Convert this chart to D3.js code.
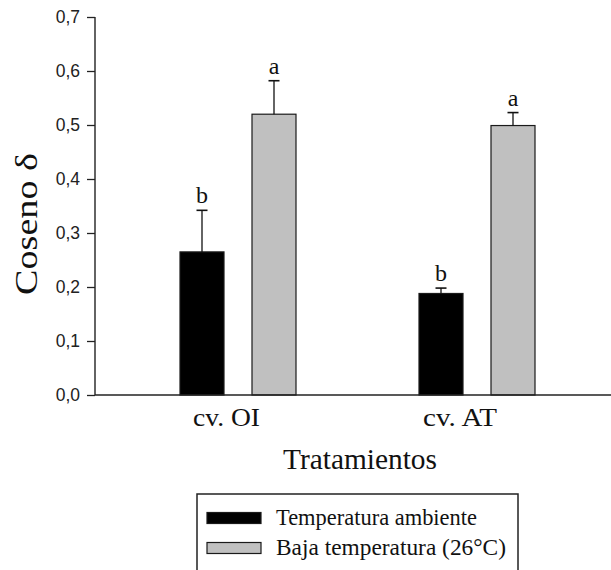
<!DOCTYPE html>
<html>
<head>
<meta charset="utf-8">
<script src="https://cdn.jsdelivr.net/npm/d3@7"></script>
<style>
  html, body { margin: 0; padding: 0; background: #fff; }
  svg { display: block; }
</style>
</head>
<body>
<svg id="chart" width="611" height="570"></svg>
<script>
// Cultivars on the x axis
const categories = ["cv. OI", "cv. AT"];
// Treatments (one bar per treatment inside each cultivar)
const seriesNames = ["Temperatura ambiente", "Baja temperatura (26°C)"];
// Mean cosine delta per cultivar, per treatment
const ambientValues = [0.265, 0.188];
const coldValues = [0.520, 0.499];
// Upper error (standard error) per cultivar, per treatment
const ambientErrors = [0.077, 0.010];
const coldErrors = [0.062, 0.024];
// Significance letters per cultivar, per treatment
const ambientLetters = ["b", "b"];
const coldLetters = ["a", "a"];
// Y axis ticks
const yTicks = [0, 0.1, 0.2, 0.3, 0.4, 0.5, 0.6, 0.7];

const seriesColors = ["#000000", "#c0c0c0"];
const serif = "'Liberation Serif', 'Times New Roman', serif";
const sans = "'Liberation Sans', Arial, sans-serif";

const rows = [];
categories.forEach((c, i) => {
  rows.push({ cat: c, s: seriesNames[0], v: ambientValues[i], e: ambientErrors[i], l: ambientLetters[i], k: 0 });
  rows.push({ cat: c, s: seriesNames[1], v: coldValues[i], e: coldErrors[i], l: coldLetters[i], k: 1 });
});

const svg = d3.select("#chart");
const axisX = 95, baseY = 395, topY = 17;

const y = d3.scaleLinear().domain([0, 0.7]).range([baseY, topY]);
const x0 = d3.scaleBand().domain(categories).range([118.5, 596.5]);
const x1 = d3.scaleBand().domain(seriesNames).range([-58, 58]).paddingInner(0.3889);
const color = d3.scaleOrdinal().domain(seriesNames).range(seriesColors);

// Bars
const g = svg.append("g");
g.selectAll("rect.bar").data(rows).join("rect")
  .attr("class", "bar")
  .attr("x", d => x0(d.cat) + x0.bandwidth() / 2 + x1(d.s))
  .attr("y", d => y(d.v))
  .attr("width", x1.bandwidth())
  .attr("height", d => y(0) - y(d.v))
  .attr("fill", d => color(d.s))
  .attr("stroke", "#1a1a1a")
  .attr("stroke-width", 1.2);

// Error bars (upper only)
const cx = d => x0(d.cat) + x0.bandwidth() / 2 + x1(d.s) + x1.bandwidth() / 2;
g.selectAll("line.err").data(rows).join("line")
  .attr("class", "err")
  .attr("x1", cx).attr("x2", cx)
  .attr("y1", d => y(d.v)).attr("y2", d => y(d.v + d.e))
  .attr("stroke", "#111").attr("stroke-width", 1.3);
g.selectAll("line.cap").data(rows).join("line")
  .attr("class", "cap")
  .attr("x1", d => cx(d) - 5.5).attr("x2", d => cx(d) + 5.5)
  .attr("y1", d => y(d.v + d.e)).attr("y2", d => y(d.v + d.e))
  .attr("stroke", "#111").attr("stroke-width", 1.6);

// Significance letters
g.selectAll("text.sig").data(rows).join("text")
  .attr("class", "sig")
  .attr("x", cx)
  .attr("y", d => y(d.v + d.e) - 7)
  .attr("text-anchor", "middle")
  .attr("font-family", serif)
  .attr("font-size", 24)
  .attr("fill", "#111")
  .text(d => d.l);

// Y axis
const yAxis = d3.axisLeft(y).tickValues(yTicks).tickSize(8).tickPadding(7)
  .tickFormat(d => d3.format(".1f")(d).replace(".", ","));
const ya = svg.append("g").attr("transform", `translate(${axisX},0)`).call(yAxis);
ya.select(".domain").attr("stroke", "#222").attr("stroke-width", 1.4).attr("d", `M0,${topY}V${baseY}`);
ya.selectAll(".tick line").attr("stroke", "#222").attr("stroke-width", 1.3);
ya.selectAll(".tick text").attr("font-family", sans).attr("font-size", 17.5).attr("fill", "#222");

// X axis baseline
svg.append("line")
  .attr("x1", axisX).attr("x2", 611)
  .attr("y1", baseY).attr("y2", baseY)
  .attr("stroke", "#222").attr("stroke-width", 1.4);

// Category labels
const catWidths = { "cv. OI": 67, "cv. AT": 74 };
const catShift = { "cv. OI": -11.5, "cv. AT": -17 };
svg.selectAll("text.cat").data(categories).join("text")
  .attr("class", "cat")
  .attr("x", d => x0(d) + x0.bandwidth() / 2 + catShift[d])
  .attr("y", 426)
  .attr("text-anchor", "middle")
  .attr("font-family", serif)
  .attr("font-size", 25)
  .attr("fill", "#111")
  .attr("textLength", d => catWidths[d])
  .attr("lengthAdjust", "spacingAndGlyphs")
  .text(d => d);

// Axis titles
svg.append("text")
  .attr("x", 360).attr("y", 469)
  .attr("text-anchor", "middle")
  .attr("font-family", serif).attr("font-size", 30).attr("fill", "#111")
  .attr("textLength", 154).attr("lengthAdjust", "spacingAndGlyphs")
  .text("Tratamientos");

svg.append("text")
  .attr("transform", "translate(37,224) rotate(-90)")
  .attr("text-anchor", "middle")
  .attr("font-family", serif).attr("font-size", 31).attr("fill", "#111")
  .attr("textLength", 142).attr("lengthAdjust", "spacingAndGlyphs")
  .text("Coseno δ");

// Legend
const leg = svg.append("g");
leg.append("rect")
  .attr("x", 197).attr("y", 494).attr("width", 321).attr("height", 100)
  .attr("fill", "none").attr("stroke", "#222").attr("stroke-width", 1.5);
const legY = [518, 548];
const legW = [201, 230];
seriesNames.forEach((s, i) => {
  leg.append("rect")
    .attr("x", 207).attr("y", legY[i] - 5.5).attr("width", 54).attr("height", 11)
    .attr("fill", color(s)).attr("stroke", "#1a1a1a").attr("stroke-width", 1.2);
  leg.append("text")
    .attr("x", 276).attr("y", legY[i] + 7)
    .attr("font-family", serif).attr("font-size", 23.5).attr("fill", "#111")
    .attr("textLength", legW[i]).attr("lengthAdjust", "spacingAndGlyphs")
    .text(s);
});
</script>
</body>
</html>
